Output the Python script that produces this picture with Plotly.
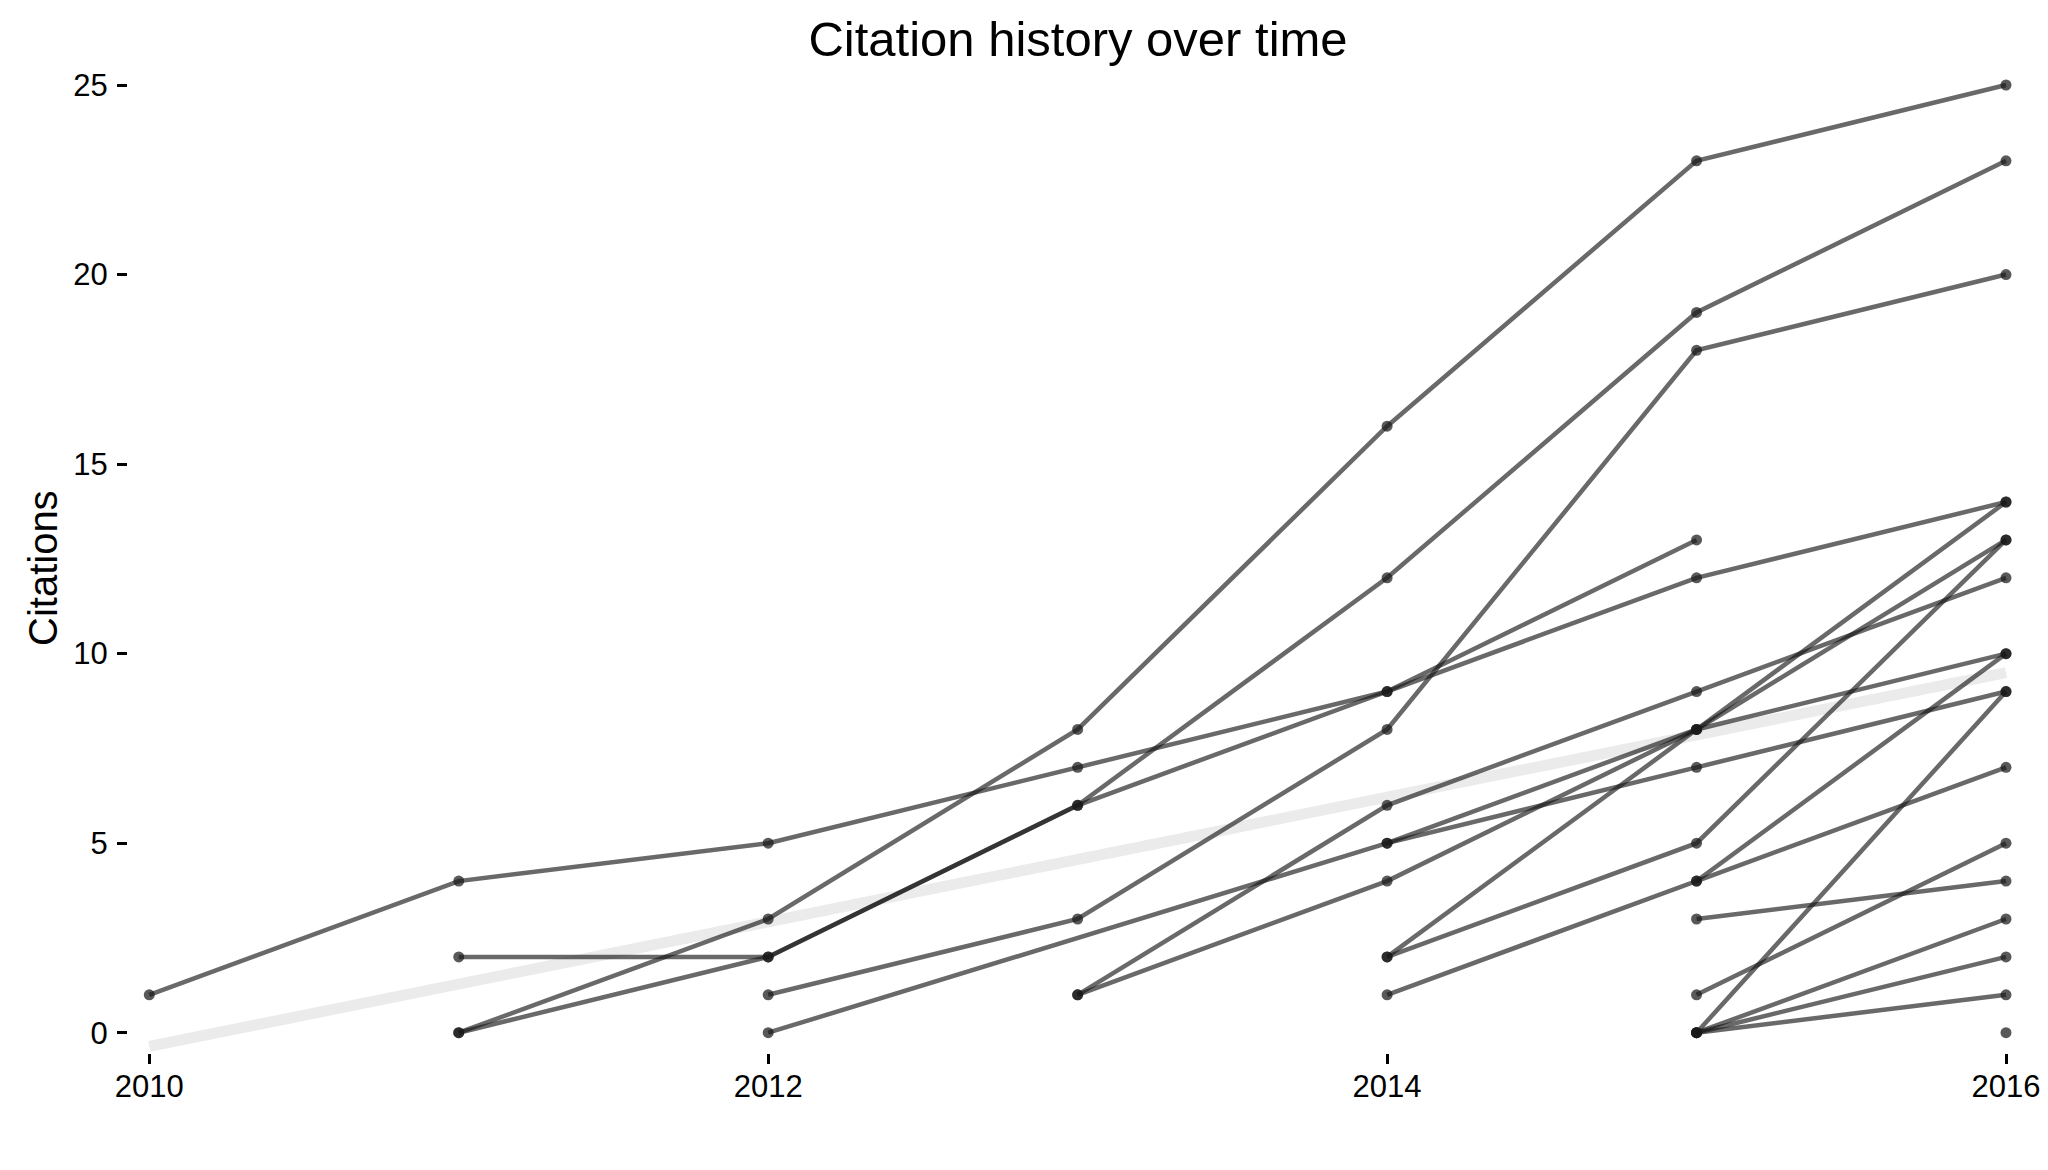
import plotly.graph_objects as go

# ---- data ----
years = [2010, 2011, 2012, 2013, 2014, 2015, 2016]

paper_a = [1, 4, 5, 7, 9, 12, 14]
paper_b = [None, 2, 2, 6, 9, 13, None]
paper_c = [None, 0, 3, 8, 16, 23, 25]
paper_d = [None, 0, 2, 6, 12, 19, 23]
paper_e = [None, None, 1, 3, 8, 18, 20]
paper_f = [None, None, 0, None, 5, 7, 9]
paper_g = [None, None, None, 1, 6, 9, 12]
paper_h = [None, None, None, 1, 4, 8, 13]
paper_i = [None, None, None, None, 5, 8, 14]
paper_j = [None, None, None, None, 2, 8, 10]
paper_k = [None, None, None, None, 2, 5, 13]
paper_l = [None, None, None, None, 1, 4, 10]
paper_m = [None, None, None, None, None, 4, 7]
paper_n = [None, None, None, None, None, 3, 4]
paper_o = [None, None, None, None, None, 1, 5]
paper_p = [None, None, None, None, None, 0, 9]
paper_q = [None, None, None, None, None, 0, 3]
paper_r = [None, None, None, None, None, 0, 2]
paper_s = [None, None, None, None, None, 0, 1]
paper_t = [None, None, None, None, None, None, 0]

papers = [paper_a, paper_b, paper_c, paper_d, paper_e, paper_f, paper_g,
          paper_h, paper_i, paper_j, paper_k, paper_l, paper_m, paper_n,
          paper_o, paper_p, paper_q, paper_r, paper_s, paper_t]

# linear trend (fitted line)
trend_years = [2010, 2016]
trend_values = [-0.36, 9.5]

title_text = "Citation history over time"
y_title = "Citations"
x_ticks = [2010, 2012, 2014, 2016]
y_ticks = [0, 5, 10, 15, 20, 25]

# ---- figure ----
# the page body has an 8px default margin, so the figure is 8px smaller
W, H = 2040, 1162
ML, MR, MT, MB = 120, 20, 56, 117
FONT = "Liberation Sans, Arial, Helvetica, sans-serif"
fig = go.Figure()

fig.add_trace(go.Scatter(
    x=trend_years, y=trend_values, mode="lines",
    line=dict(color="rgb(235,235,235)", width=11),
    hoverinfo="skip", showlegend=False, cliponaxis=False))

for vals in papers:
    n = sum(v is not None for v in vals)
    fig.add_trace(go.Scatter(
        x=years, y=vals,
        mode="lines+markers" if n > 1 else "markers",
        connectgaps=True,
        line=dict(color="rgba(25,25,25,0.65)", width=4.5),
        marker=dict(color="rgba(25,25,25,0.72)", size=11, line=dict(width=0)),
        showlegend=False, cliponaxis=False))

plot_h = H - MT - MB
fig.add_annotation(
    text=y_title, textangle=-90, showarrow=False,
    xref="paper", yref="paper", x=0, y=(H - MB - 560) / plot_h,
    xanchor="center", yanchor="middle", xshift=35 - ML,
    font=dict(size=40, family=FONT, color="black"))

fig.update_layout(
    width=W, height=H,
    margin=dict(l=ML, r=MR, t=MT, b=MB, autoexpand=False),
    paper_bgcolor="white", plot_bgcolor="white",
    font=dict(family=FONT, color="black"),
    title=dict(text=title_text, x=(1070 / W), xanchor="center",
               y=1 - 31 / H, yanchor="middle", yref="container",
               font=dict(size=49, family=FONT, color="black")),
)

fig.update_xaxes(
    range=[2009.9312, 2016.0711],
    tickvals=x_ticks, ticktext=[str(v) for v in x_ticks],
    ticks="outside", ticklen=10, tickwidth=2.5, tickcolor="black",
    ticklabelstandoff=-4,
    tickfont=dict(size=31, family=FONT, color="black"),
    showgrid=False, zeroline=False, showline=False, automargin=False)

fig.update_yaxes(
    range=[-0.535, 25.554],
    tickvals=y_ticks, ticktext=[str(v) for v in y_ticks],
    ticks="outside", ticklen=10, tickwidth=2.5, tickcolor="black",
    ticklabelstandoff=3,
    tickfont=dict(size=31, family=FONT, color="black"),
    showgrid=False, zeroline=False, showline=False, automargin=False)

fig.write_html("out.html")
